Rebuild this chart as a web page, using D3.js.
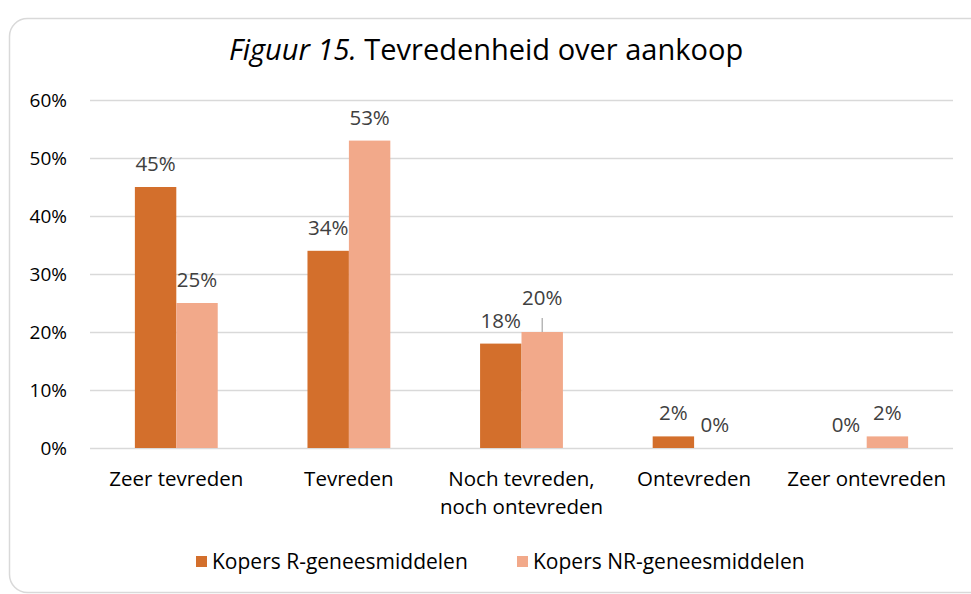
<!DOCTYPE html>
<html><head><meta charset="utf-8">
<script src="https://cdn.jsdelivr.net/npm/d3@7"></script>
<style>body{margin:0;background:#fff}svg{display:block}text{font-family:"Open Sans",sans-serif}</style>
</head><body><svg id="c" width="971" height="594"></svg>
<script>
const categories = [["Zeer tevreden"],["Tevreden"],["Noch tevreden,","noch ontevreden"],["Ontevreden"],["Zeer ontevreden"]];
const seriesNames = ["Kopers R-geneesmiddelen","Kopers NR-geneesmiddelen"];
const seriesR = [45,34,18,2,0];
const seriesNR = [25,53,20,0,2];
const yTicks = [0,10,20,30,40,50,60];
const colors = ["#D36F2C","#F2A98A"];

const svg = d3.select("#c");
svg.append("rect").attr("x",9.5).attr("y",18.5).attr("width",985).attr("height",574)
  .attr("rx",18).attr("fill","#fff").attr("stroke","#D9D9D9").attr("stroke-width",1.5);

const t = svg.append("text").attr("x",486).attr("y",60).attr("text-anchor","middle")
  .attr("font-size",29).attr("fill","#000");
t.append("tspan").attr("font-style","italic").text("Figuur 15.");
t.append("tspan").text(" Tevredenheid over aankoop");

const x0 = d3.scaleBand().domain(d3.range(categories.length)).range([90,953]).paddingInner(0.52).paddingOuter(0.26);
const x1 = d3.scaleBand().domain([0,1]).range([0,x0.bandwidth()]);
const y = d3.scaleLinear().domain([0,60]).range([448,100]);

svg.append("g").selectAll("line").data(yTicks).join("line")
  .attr("x1",90).attr("x2",953).attr("y1",d=>Math.round(y(d))+0.5).attr("y2",d=>Math.round(y(d))+0.5)
  .attr("stroke","#D9D9D9").attr("stroke-width",1.3);
svg.append("g").selectAll("text").data(yTicks).join("text")
  .attr("x",67).attr("y",d=>y(d)+7).attr("text-anchor","end").attr("font-size",19).attr("fill","#000")
  .text(d=>d+"%");

const series = [seriesR, seriesNR];
series.forEach((vals,s)=>{
  svg.append("g").selectAll("rect").data(vals).join("rect")
    .attr("x",(d,i)=>x0(i)+x1(s)).attr("width",x1.bandwidth())
    .attr("y",d=>y(d)).attr("height",d=>y(0)-y(d)).attr("fill",colors[s]);
  svg.append("g").selectAll("text").data(vals).join("text")
    .attr("x",(d,i)=>x0(i)+x1(s)+x1.bandwidth()/2)
    .attr("y",(d,i)=> (s===1 && i===2) ? y(d)-27 : y(d)-16)
    .attr("text-anchor","middle").attr("font-size",20.5).attr("fill","#404040")
    .text(d=>d+"%");
});
// leader line for the 20% label
svg.append("line").attr("x1",x0(2)+x1(1)+x1.bandwidth()/2).attr("x2",x0(2)+x1(1)+x1.bandwidth()/2)
  .attr("y1",y(seriesNR[2])).attr("y2",y(seriesNR[2])-14).attr("stroke","#A6A6A6").attr("stroke-width",1.2);

const xl = svg.append("g").selectAll("text").data(categories).join("text")
  .attr("x",(d,i)=>x0(i)+x0.bandwidth()/2).attr("y",486).attr("text-anchor","middle")
  .attr("font-size",20.5).attr("fill","#000");
xl.selectAll("tspan").data(d=>d).join("tspan").attr("x",function(){return this.parentNode.getAttribute("x");})
  .attr("dy",(d,i)=>i?28:0).text(d=>d);

const legX = [196, 517];
seriesNames.forEach((n,i)=>{
  svg.append("rect").attr("x",legX[i]).attr("y",556).attr("width",11).attr("height",11).attr("fill",colors[i]);
  svg.append("text").attr("x",legX[i]+16).attr("y",569).attr("font-size",21).attr("fill","#000").text(n);
});
</script></body></html>
